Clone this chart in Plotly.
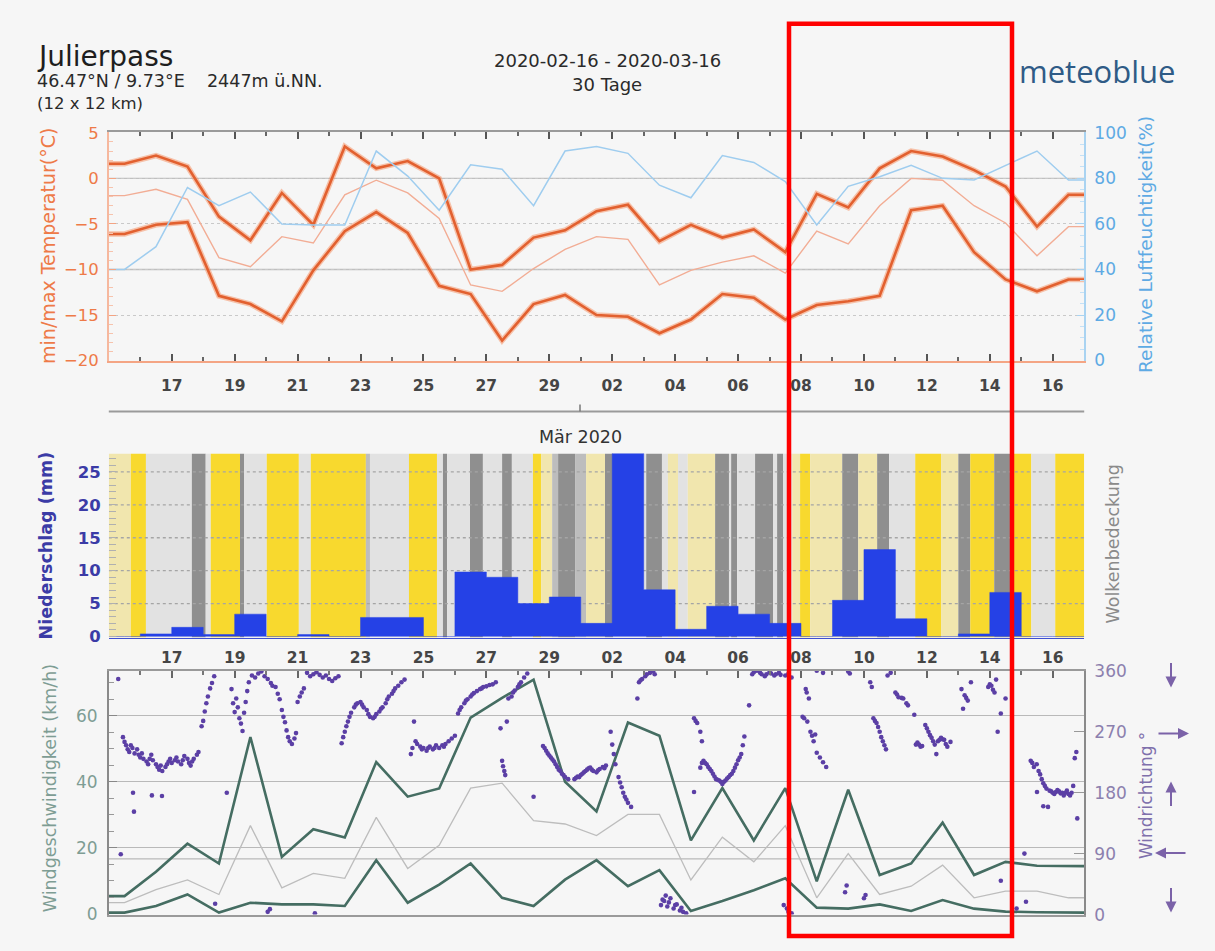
import plotly.graph_objects as go

W, H = 1215, 951

# ---------------- data ----------------
# day index 0 = 2020-02-16 00:00, one value per day
day_index = list(range(31))
tick_labels = ["17", "19", "21", "23", "25", "27", "29",
               "02", "04", "06", "08", "10", "12", "14", "16"]

temp_max = [1.6, 2.5, 1.3, -4.2, -6.8, -1.6, -5.1, 3.5, 1.1, 1.9, 0.0, -10.0, -9.5, -6.5, -5.7,
            -3.6, -2.9, -6.9, -5.1, -6.5, -5.6, -8.1, -1.7, -3.2, 1.1, 3.0, 2.4, 0.9, -0.9, -5.3, -1.8]
temp_min = [-6.1, -5.1, -4.8, -12.9, -13.8, -15.7, -10.1, -5.8, -3.7, -6.0, -11.8, -12.7, -17.8, -13.8, -12.8,
            -15.0, -15.2, -17.0, -15.5, -12.7, -13.1, -15.5, -13.9, -13.5, -12.9, -3.5, -3.0, -8.1, -11.1, -12.4, -11.1]
temp_mean = [-1.9, -1.2, -2.3, -8.7, -9.7, -6.4, -7.1, -1.8, -0.2, -1.6, -4.4, -11.7, -12.4, -9.9, -7.8,
             -6.4, -6.7, -11.7, -10.1, -9.2, -8.5, -10.4, -5.8, -7.2, -3.0, 0.0, -0.2, -3.0, -4.9, -8.5, -5.3]
humidity = [40, 50, 76, 68, 74, 60, 59.5, 59.5, 92, 81, 66, 86, 84, 68, 92,
            94, 91, 77, 71.5, 90, 87, 78.6, 59.5, 76.5, 80.7, 85.7, 80, 79.3, 85.7, 92, 79.3]

precip = [0, 0.4, 1.4, 0.3, 3.4, 0, 0.3, 0, 2.9, 2.9, 0, 9.8, 9.0, 5.0, 6.0,
          2.0, 30.0, 7.1, 1.1, 4.6, 3.4, 2.0, 0, 5.5, 13.2, 2.7, 0, 0.4, 6.7, 0, 0]

# cloud cover periods: (start day, end day, level 0=clear .. 4=overcast)
cloud_periods = [
    (-0.5, 0.2, 1), (0.2, 0.68, 0), (0.68, 2.14, 2), (2.14, 2.58, 4), (2.58, 2.74, 2),
    (2.74, 3.67, 0), (3.67, 3.8, 4), (3.8, 4.52, 2), (4.52, 5.54, 0), (5.54, 5.92, 2),
    (5.92, 7.67, 0), (7.67, 7.8, 3), (7.8, 9.04, 2), (9.04, 9.93, 0), (9.93, 10.12, 2),
    (10.12, 10.25, 4), (10.25, 10.98, 2), (10.98, 11.39, 4), (11.39, 12.0, 2), (12.0, 12.31, 4),
    (12.31, 12.98, 2), (12.98, 13.24, 0), (13.24, 13.59, 1), (13.59, 13.78, 3), (13.78, 14.32, 4),
    (14.32, 14.67, 3), (14.67, 15.27, 1), (15.27, 15.53, 4), (15.53, 16.58, 2), (16.58, 17.08, 4),
    (17.08, 17.27, 2), (17.27, 17.59, 1), (17.59, 17.9, 2), (17.9, 18.77, 1), (18.77, 19.21, 4),
    (19.21, 19.28, 2), (19.28, 19.47, 4), (19.47, 20.04, 2), (20.04, 20.61, 4), (20.61, 20.74, 2),
    (20.74, 20.93, 4), (20.93, 21.22, 2), (21.22, 21.47, 1), (21.47, 21.79, 0), (21.79, 22.81, 1),
    (22.81, 23.32, 4), (23.32, 23.92, 1), (23.92, 24.3, 4), (24.3, 25.13, 2), (25.13, 25.95, 0),
    (25.95, 26.5, 1), (26.5, 26.88, 4), (26.88, 27.64, 0), (27.64, 28.15, 4), (28.15, 28.82, 0),
    (28.82, 29.58, 2), (29.58, 30.5, 0),
]
cloud_colors = ["#f8d92e", "#f1e6ae", "#e2e2e2", "#bdbdbd", "#8f8f8f"]

wind_max = [5.3, 12.7, 21.2, 15.2, 53.6, 17.2, 25.6, 23.1, 46.0, 35.5, 38.0, 59.5, 65.5, 71.0, 40.0,
            31.0, 58.0, 54.0, 22.2, 38.1, 22.2, 38.1, 9.8, 37.6, 11.7, 15.2, 27.6, 11.7, 15.7, 14.5, 14.4]
wind_mean = [3.3, 7.3, 10.2, 5.8, 26.7, 7.8, 12.2, 10.7, 29.2, 13.7, 20.7, 38.1, 39.6, 28.2, 27.2,
             23.7, 30.1, 30.1, 10.2, 23.2, 15.7, 26.7, 4.8, 18.2, 5.8, 8.3, 14.7, 4.8, 6.8, 6.8, 4.8]
wind_min = [0.3, 2.3, 5.8, 0.3, 3.3, 2.8, 2.8, 2.3, 16.2, 3.3, 8.8, 15.2, 4.8, 2.3, 10.3,
            16.2, 8.3, 13.2, 0.8, 3.8, 7.1, 10.7, 1.8, 1.5, 2.8, 0.8, 4.1, 1.5, 0.6, 0.4, 0.3]

# wind direction observations: (day, degrees)
wind_dir_obs = [
    (-0.2, 348), (-0.12, 89),
    (-0.05, 262), (0.0, 255), (0.05, 250), (0.1, 244), (0.15, 240), (0.2, 250), (0.25, 246), (0.32, 238),
    (0.4, 244), (0.45, 236), (0.5, 232), (0.55, 238), (0.6, 230), (0.7, 226), (0.75, 222), (0.8, 230),
    (0.85, 236), (0.9, 228), (1.0, 222), (1.05, 218), (1.1, 214), (1.15, 220), (1.2, 212), (1.3, 218),
    (1.35, 222), (1.4, 226), (1.45, 230), (1.5, 224), (1.6, 228), (1.65, 232), (1.7, 226), (1.8, 222),
    (1.85, 228), (1.9, 234), (2.0, 230), (2.05, 224), (2.1, 220), (2.15, 226), (2.2, 230), (2.3, 236),
    (2.35, 240), (0.27, 180), (0.3, 152), (0.87, 176), (1.19, 175),
    (2.45, 278), (2.5, 286), (2.55, 300), (2.6, 312), (2.65, 322), (2.72, 334), (2.78, 342), (2.85, 352),
    (2.88, 16),
    (3.25, 180), (3.4, 333), (3.45, 312), (3.5, 299), (3.55, 319), (3.6, 306), (3.65, 290), (3.7, 282),
    (3.75, 271), (3.8, 298), (3.85, 314), (3.9, 330), (3.95, 343), (4.05, 353),
    (4.15, 350), (4.25, 356), (4.35, 359), (4.45, 352), (4.55, 348), (4.65, 342), (4.7, 338), (4.55, 4),
    (4.62, 8),
    (4.8, 336), (4.87, 326), (4.93, 318), (5.0, 302), (5.05, 292), (5.1, 284), (5.15, 272), (5.2, 262),
    (5.25, 256), (5.32, 252), (5.4, 260), (5.45, 268),
    (5.5, 314), (5.57, 322), (5.63, 328), (5.7, 334),
    (5.8, 357), (5.9, 352), (6.0, 355), (6.1, 358), (6.2, 354), (6.3, 350), (6.4, 353), (6.5, 348),
    (6.6, 345), (6.7, 349), (6.8, 352), (6.05, 2),
    (6.9, 253), (6.95, 262), (7.0, 270), (7.05, 278), (7.1, 285), (7.15, 292), (7.2, 298), (7.3, 306),
    (7.35, 310), (7.4, 312), (7.5, 314), (7.55, 310), (7.6, 306), (7.7, 302), (7.75, 296), (7.8, 292),
    (7.9, 290), (7.95, 292), (8.0, 296), (8.1, 300), (8.15, 304), (8.2, 306), (8.3, 312), (8.35, 318),
    (8.4, 322), (8.5, 326), (8.55, 330), (8.6, 334), (8.7, 338), (8.8, 343), (8.9, 347),
    (9.1, 237), (9.15, 246), (9.2, 285), (9.25, 256), (9.3, 252), (9.4, 248), (9.45, 244), (9.5, 246),
    (9.6, 242), (9.65, 246), (9.7, 248), (9.8, 244), (9.85, 246), (9.9, 250), (10.0, 246), (10.1, 250),
    (10.15, 248), (10.2, 252), (10.3, 256), (10.4, 260), (10.5, 264),
    (10.6, 297), (10.65, 302), (10.7, 306), (10.8, 312), (10.85, 316), (10.9, 318), (11.0, 322),
    (11.05, 325), (11.1, 327), (11.2, 330), (11.3, 333), (11.35, 334), (11.4, 336), (11.5, 337),
    (11.6, 339), (11.7, 340), (11.8, 343),
    (11.95, 275), (12.0, 227), (12.03, 219), (12.07, 212), (12.1, 206), (12.15, 285), (12.2, 319),
    (12.3, 322), (12.35, 328), (12.4, 331), (12.5, 336), (12.55, 340), (12.6, 343), (12.7, 350),
    (12.8, 356), (13.0, 174),
    (13.3, 249), (13.35, 246), (13.4, 242), (13.45, 238), (13.5, 235), (13.55, 232), (13.6, 229),
    (13.65, 226), (13.7, 222), (13.75, 218), (13.8, 214), (13.85, 212), (13.9, 208), (13.95, 206),
    (14.0, 203), (14.1, 200),
    (14.3, 200), (14.35, 202), (14.4, 204), (14.45, 203), (14.5, 206), (14.55, 208), (14.6, 210),
    (14.65, 212), (14.7, 214), (14.75, 216), (14.8, 217), (14.85, 214), (14.9, 212), (15.0, 210),
    (15.05, 213), (15.1, 215), (15.2, 218), (15.25, 216), (15.3, 220),
    (15.45, 270), (15.5, 251), (15.55, 237), (15.6, 222), (15.7, 203), (15.75, 195), (15.8, 188),
    (15.85, 180), (15.9, 174), (15.95, 170), (16.0, 165), (16.1, 159), (16.3, 319),
    (16.35, 343), (16.4, 346), (16.45, 348), (16.55, 352), (16.6, 355), (16.7, 357), (16.8, 359),
    (16.85, 355),
    (17.05, 14), (17.1, 22), (17.15, 20), (17.2, 28), (17.25, 12), (17.3, 18), (17.35, 24), (17.45, 9),
    (17.5, 14), (17.55, 15), (17.65, 6), (17.7, 10), (17.75, 4), (17.85, 2),
    (18.1, 290), (18.15, 286), (18.2, 283), (18.3, 270), (18.35, 256), (18.1, 181),
    (18.3, 217), (18.35, 224), (18.4, 227), (18.45, 224), (18.5, 222), (18.55, 218), (18.6, 215),
    (18.65, 212), (18.7, 208), (18.75, 204), (18.8, 200), (18.85, 199), (18.9, 198), (18.95, 196),
    (19.0, 193), (19.05, 196), (19.1, 198), (19.15, 201), (19.2, 203), (19.25, 206), (19.3, 208),
    (19.35, 212), (19.4, 217), (19.45, 222), (19.5, 228), (19.55, 232), (19.6, 237), (19.65, 250),
    (19.7, 263), (19.85, 309),
    (19.95, 355), (20.0, 358), (20.1, 360), (20.2, 357), (20.25, 355), (20.35, 352), (20.4, 355),
    (20.5, 358), (20.55, 356), (20.65, 353), (20.7, 355), (20.8, 357), (20.85, 354), (21.0, 353),
    (21.1, 356), (21.2, 350), (20.95, 14), (21.05, 9), (21.1, 4), (21.2, 2),
    (21.55, 292), (21.6, 290), (21.65, 333), (21.68, 328), (21.7, 285), (21.75, 319), (21.8, 270),
    (21.85, 264), (21.9, 256), (21.95, 266), (22.0, 239), (22.1, 232), (22.2, 225), (22.3, 218),
    (22.0, 360), (22.2, 357), (22.9, 33), (22.95, 43),
    (23.0, 359), (23.05, 356), (23.5, 24), (23.55, 29), (23.7, 343), (23.75, 336),
    (23.8, 290), (23.85, 286), (23.9, 283), (23.95, 277), (24.0, 270), (24.05, 262), (24.1, 256),
    (24.15, 250), (24.2, 244),
    (24.25, 353), (24.35, 357), (24.5, 328), (24.55, 325), (24.6, 321), (24.7, 320), (24.75, 319),
    (24.85, 312), (24.9, 309),
    (25.1, 295), (25.15, 251), (25.2, 254), (25.25, 251), (25.3, 248), (25.35, 249), (25.45, 280),
    (25.5, 275), (25.55, 270), (25.6, 265), (25.65, 261), (25.7, 256), (25.75, 251), (25.8, 237),
    (25.85, 256), (25.9, 258), (25.95, 261), (26.0, 259), (26.05, 258), (26.1, 252), (26.15, 248),
    (26.25, 255),
    (26.6, 333), (26.65, 304), (26.7, 324), (26.75, 320), (26.8, 316), (26.9, 343),
    (27.45, 336), (27.5, 340), (27.55, 338), (27.6, 332), (27.65, 328), (27.7, 347), (27.75, 270),
    (27.85, 297), (28.0, 319), (27.85, 50), (28.35, 9), (28.6, 90), (28.65, 19),
    (28.8, 227), (28.85, 224), (28.9, 218), (28.99, 222), (29.05, 212), (29.1, 207), (29.15, 200),
    (29.2, 194), (29.25, 190), (29.3, 186), (29.35, 159), (29.4, 183), (29.45, 182), (29.5, 180),
    (29.55, 178), (29.6, 181), (29.65, 184), (29.7, 182), (29.75, 179), (29.8, 180), (29.85, 176),
    (29.9, 180), (29.95, 183), (30.0, 178), (30.05, 176), (30.1, 180), (30.15, 190), (30.2, 231),
    (30.25, 240), (30.28, 142), (29.0, 181), (29.2, 160),
]

# ---------------- layout helpers ----------------
def px_x(p):
    return p / W


def px_y(p):
    return 1 - p / H


X0, X1 = 108.8, 1084.2
XRANGE = [-0.5, 30.5]
XDOM = [px_x(X0), px_x(X1)]
TOP_DOM = [px_y(359), px_y(125)]
MID_DOM = [px_y(641), px_y(453)]
BOT_DOM = [px_y(924), px_y(675)]

T_RANGE = [-20.1, 5.05]
H_RANGE = [(T_RANGE[0] + 20) * 4, (T_RANGE[1] + 20) * 4]
P_RANGE = [-0.15, 27.8]
V_RANGE = [-0.3, 73.7]
D_RANGE = [0, 360]

tick_pos = [1.5 + 2 * i for i in range(len(tick_labels))]
minor_pos = [0.5 + 2 * i for i in range(len(tick_labels) + 1)]

FONT = "DejaVu Sans"
ORANGE = "#e2602f"
TEAL = "#456d62"
PURPLE = "#5b3fa5"


def pad(vals):
    return [vals[0]] + list(vals) + [vals[-1]]


x_pad = [XRANGE[0]] + day_index + [XRANGE[1]]

fig = go.Figure()

# ---- top panel: temperature + humidity ----
fig.add_trace(go.Scatter(x=x_pad, y=pad(humidity), xaxis="x4", yaxis="y2", mode="lines",
                         line=dict(color="#9fcdef", width=1.5), hoverinfo="skip"))
fig.add_trace(go.Scatter(x=x_pad, y=pad(temp_mean), xaxis="x", yaxis="y", mode="lines",
                         line=dict(color="#f2ad95", width=1.4), hoverinfo="skip"))
for series in (temp_max, temp_min):
    fig.add_trace(go.Scatter(x=x_pad, y=pad(series), xaxis="x", yaxis="y", mode="lines",
                             line=dict(color="rgba(245,150,105,0.55)", width=5.5), hoverinfo="skip"))
    fig.add_trace(go.Scatter(x=x_pad, y=pad(series), xaxis="x", yaxis="y", mode="lines",
                             line=dict(color=ORANGE, width=2.6), hoverinfo="skip"))

# ---- middle panel: cloud cover stripes, grid, precipitation ----
c_center = [(s + e) / 2 for s, e, _ in cloud_periods]
c_width = [e - s for s, e, _ in cloud_periods]
c_color = [cloud_colors[lvl] for _, _, lvl in cloud_periods]
fig.add_trace(go.Bar(x=c_center, y=[P_RANGE[1] - P_RANGE[0]] * len(cloud_periods), base=P_RANGE[0],
                     width=c_width, marker=dict(color=c_color, line=dict(width=0)),
                     xaxis="x2", yaxis="y3", hoverinfo="skip"))
grid_x, grid_y = [], []
for v in [5, 10, 15, 20, 25]:
    grid_x += [XRANGE[0], XRANGE[1], None]
    grid_y += [v, v, None]
fig.add_trace(go.Scatter(x=grid_x, y=grid_y, xaxis="x2", yaxis="y3", mode="lines",
                         line=dict(color="#a5a5a5", width=1.3, dash="dot"), hoverinfo="skip"))
fig.add_trace(go.Scatter(x=x_pad, y=pad(precip), xaxis="x2", yaxis="y3", mode="lines",
                         line=dict(color="#2541e6", width=0.5, shape="hvh"), fill="tozeroy",
                         fillcolor="#2541e6", hoverinfo="skip"))

# ---- bottom panel: wind ----
fig.add_trace(go.Scatter(x=[d for d, _ in wind_dir_obs], y=[a for _, a in wind_dir_obs],
                         xaxis="x3", yaxis="y5", mode="markers",
                         marker=dict(color=PURPLE, size=4.6), hoverinfo="skip"))
fig.add_trace(go.Scatter(x=x_pad, y=pad(wind_mean), xaxis="x3", yaxis="y4", mode="lines",
                         line=dict(color="#bdbdbd", width=1.3), hoverinfo="skip"))
for series in (wind_max, wind_min):
    fig.add_trace(go.Scatter(x=x_pad, y=pad(series), xaxis="x3", yaxis="y4", mode="lines",
                             line=dict(color=TEAL, width=2.6), hoverinfo="skip"))

tickfont_x = dict(family=FONT, size=15.5, color="#454545", weight="bold")

common_x = dict(range=XRANGE, domain=XDOM, tickvals=tick_pos, ticktext=tick_labels,
                showgrid=False, zeroline=False, fixedrange=True)

fig.update_layout(
    width=W, height=H, margin=dict(l=0, r=0, t=0, b=0),
    paper_bgcolor="#f6f6f6", plot_bgcolor="rgba(0,0,0,0)",
    showlegend=False, barmode="overlay",
    font=dict(family=FONT),
    xaxis=dict(**common_x, anchor="y", ticks="inside", ticklen=7, tickwidth=1.5, tickcolor="#555",
               minor=dict(tickvals=minor_pos, ticks="inside", ticklen=4, tickcolor="#666"),
               showline=True, linecolor="#f4a584", linewidth=2,
               tickfont=tickfont_x, ticklabelstandoff=9),
    xaxis4=dict(**common_x, overlaying="x", side="top", anchor="y", ticks="inside", ticklen=7,
                tickwidth=1.5, tickcolor="#555", showticklabels=False,
                minor=dict(tickvals=minor_pos, ticks="inside", ticklen=4, tickcolor="#666"),
                showline=True, linecolor="#9a9a9a", linewidth=2),
    yaxis=dict(domain=TOP_DOM, anchor="x", range=T_RANGE, tickvals=[-20, -15, -10, -5, 0, 5],
               ticks="inside", ticklen=7, tickcolor="#f3a483",
               minor=dict(dtick=1, tick0=0, ticks="inside", ticklen=4, tickcolor="#f6c3ad"),
               showline=True, linecolor="#f6b89e", linewidth=1.5,
               showgrid=True, gridcolor="#c9c9c9", griddash="dot", gridwidth=1.2,
               zeroline=False, fixedrange=True, ticklabelstandoff=5,
               tickfont=dict(family=FONT, size=16.5, color="#ee7a48")),
    yaxis2=dict(overlaying="y", side="right", anchor="x4", range=H_RANGE,
                tickvals=[0, 20, 40, 60, 80, 100], ticks="inside", ticklen=7, tickcolor="#a9d3f1",
                minor=dict(dtick=5, tick0=0, ticks="inside", ticklen=4, tickcolor="#c4e1f6"),
                showline=True, linecolor="#a9d3f1", linewidth=1.5, showgrid=False, zeroline=False,
                fixedrange=True, ticklabelstandoff=5,
                tickfont=dict(family=FONT, size=17, color="#5eaae4")),
    xaxis2=dict(**common_x, anchor="y3", ticks="", showline=True, linecolor="#3f4fd0", linewidth=1,
                tickfont=tickfont_x, ticklabelstandoff=6),
    yaxis3=dict(domain=MID_DOM, anchor="x2", range=P_RANGE, tickvals=[0, 5, 10, 15, 20, 25],
                ticks="", minor=dict(dtick=1, tick0=0, ticks="inside", ticklen=7, tickcolor="#b0b0b0"),
                showline=False, showgrid=False, zeroline=False, fixedrange=True, ticklabelstandoff=7,
                tickfont=dict(family=FONT, size=16.5, color="#3b3ba6", weight="bold")),
    xaxis3=dict(**common_x, anchor="y4", side="top", showticklabels=False, ticks="inside", ticklen=7,
                tickwidth=1.5, tickcolor="#666",
                minor=dict(tickvals=minor_pos, ticks="inside", ticklen=4, tickcolor="#777"),
                showline=True, linecolor="#9a9a9a", linewidth=2, mirror=True),
    yaxis4=dict(domain=BOT_DOM, anchor="x3", range=V_RANGE, tickvals=[0, 20, 40, 60],
                ticks="inside", ticklen=8, tickcolor="#888",
                minor=dict(dtick=5, tick0=0, ticks="inside", ticklen=5, tickcolor="#999"),
                showline=True, linecolor="#8a8a8a", linewidth=1.5,
                showgrid=True, gridcolor="#b9b9b9", gridwidth=1.4, zeroline=False, fixedrange=True,
                ticklabelstandoff=6, tickfont=dict(family=FONT, size=17, color="#7e9d94")),
    yaxis5=dict(overlaying="y4", side="right", anchor="x3", range=D_RANGE,
                tickvals=[0, 90, 180, 270, 360], ticks="inside", ticklen=10, tickcolor="#999",
                showline=True, linecolor="#8a8a8a", linewidth=1.5, showgrid=False, zeroline=False,
                fixedrange=True, ticklabelstandoff=5,
                tickfont=dict(family=FONT, size=17, color="#8c80ae")),
)

shapes = [
    # humidity reference lines (40 %, 80 %)
    dict(type="line", xref="x", yref="y2", x0=XRANGE[0], x1=XRANGE[1], y0=40, y1=40,
         line=dict(color="#c0c0c0", width=1.4), layer="below"),
    dict(type="line", xref="x", yref="y2", x0=XRANGE[0], x1=XRANGE[1], y0=80, y1=80,
         line=dict(color="#c0c0c0", width=1.4), layer="below"),
    # extra wind reference line
    dict(type="line", xref="x3", yref="y4", x0=XRANGE[0], x1=XRANGE[1], y0=16.6, y1=16.6,
         line=dict(color="#b9b9b9", width=1.4), layer="below"),
    # month separator
    dict(type="line", xref="paper", yref="paper", x0=XDOM[0], x1=XDOM[1], y0=px_y(410), y1=px_y(410),
         line=dict(color="#9a9a9a", width=2)),
    dict(type="line", xref="paper", yref="paper", x0=px_x(580), x1=px_x(580), y0=px_y(410), y1=px_y(403),
         line=dict(color="#777", width=1.5)),
    # red highlight frame
    dict(type="rect", xref="paper", yref="paper", x0=px_x(789), x1=px_x(1012), y0=px_y(946), y1=px_y(14),
         line=dict(color="#ff0000", width=4.5), fillcolor="rgba(0,0,0,0)", layer="above"),
]
fig.update_layout(shapes=shapes)

ann = []


def text(x, y, s, size, color="#222", xanchor="left", angle=0, weight="normal", family=FONT):
    ann.append(dict(xref="paper", yref="paper", x=px_x(x), y=px_y(y), text=s, showarrow=False,
                    xanchor=xanchor, yanchor="middle", textangle=angle, borderpad=0,
                    font=dict(family=family, size=size, color=color, weight=weight)))


NB = "\u00a0"
text(36, 48, "Julierpass", 28, "#1e1e1e")
text(36, 73, "46.47°N / 9.73°E" + NB * 4 + "2447m ü.NN.", 17.5, "#2a2a2a")
text(36, 96, "(12 x 12 km)", 16.5, "#2a2a2a")
text(607, 52, "2020-02-16 - 2020-03-16", 18, "#2a2a2a", "center")
text(607, 76, "30 Tage", 18, "#2a2a2a", "center")
text(1097, 62, "meteoblue", 31, "#2f5b86", "center", family="Open Sans", weight=500)
text(580, 436, "Mär 2020", 17.5, "#333", "center")

text(48, 241, "min/max Temperatur(°C)", 19, "#ee7a48", "center", -90)
text(1146, 240, "Relative Luftfeuchtigkeit(%)", 18.5, "#5eaae4", "center", -90)
text(46, 547, "Niederschlag (mm)", 17.5, "#3b3ba6", "center", -90, "bold")
text(1113, 546, "Wolkenbedeckung", 17.5, "#8a8a8a", "center", -90)
text(50, 795, "Windgeschwindigkeit (km/h)", 17.5, "#7e9d94", "center", -90)
text(1146, 803, "Windrichtung °", 17, "#7f70ac", "center", -90)

# wind direction arrows next to the direction axis
arrow_specs = [(1171, 692, 0, -26), (1189, 739, -32, 0), (1171, 788, 0, 26),
               (1155, 861, 32, 0), (1171, 922, 0, -26)]
for hx, hy, ax, ay in arrow_specs:
    ann.append(dict(xref="paper", yref="paper", x=px_x(hx), y=px_y(hy), ax=ax, ay=ay, text="",
                    showarrow=True, arrowhead=2, arrowsize=1.1, arrowwidth=2, arrowcolor="#7b62a8"))

fig.update_layout(annotations=ann)

fig.write_html("out.html", config={"displayModeBar": False},
               post_script="document.body.style.margin='0';document.body.style.overflow='hidden';")
